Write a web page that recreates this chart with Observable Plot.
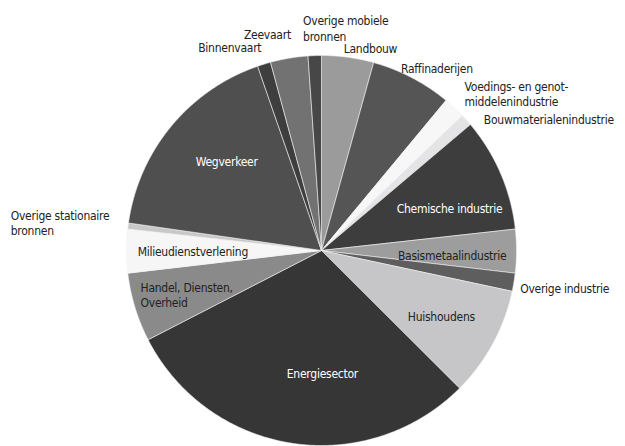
<!DOCTYPE html>
<html>
<head>
<meta charset="utf-8">
<script src="https://cdn.jsdelivr.net/npm/d3@7"></script>
<script src="https://cdn.jsdelivr.net/npm/@observablehq/plot@0.6"></script>
<style>
  html, body { margin: 0; padding: 0; background: #fff; }
  #chart svg { display: block; }
  #chart svg text { letter-spacing: -0.25px; }
</style>
</head>
<body>
<div id="chart"></div>
<script>
// Slices, clockwise from 12 o'clock (share of total, %)
const categories = [
  "Landbouw", "Raffinaderijen", "Voedings- en genotmiddelenindustrie",
  "Bouwmaterialenindustrie", "Chemische industrie", "Basismetaalindustrie",
  "Overige industrie", "Huishoudens", "Energiesector",
  "Handel, Diensten, Overheid", "Milieudienstverlening",
  "Overige stationaire bronnen", "Wegverkeer", "Binnenvaart", "Zeevaart",
  "Overige mobiele bronnen"
];
const values = [4.3, 6.7, 1.8, 1.0, 9.4, 3.6, 1.5, 9.1, 29.9, 5.7, 3.6, 0.5, 17.4, 1.1, 3.1, 1.1];
const labels = [
  "Landbouw", "Raffinaderijen", "Voedings- en genot-\nmiddelenindustrie",
  "Bouwmaterialenindustrie", "Chemische industrie", "Basismetaalindustrie",
  "Overige industrie", "Huishoudens", "Energiesector",
  "Handel, Diensten,\nOverheid", "Milieudienstverlening",
  "Overige stationaire\nbronnen", "Wegverkeer", "Binnenvaart", "Zeevaart",
  "Overige mobiele\nbronnen"
];

// Styling
const colors = ["#9b9b9b", "#555555", "#f7f7f7", "#e4e4e6", "#3d3d3d", "#9d9d9d",
  "#5e5e5e", "#c6c6c8", "#363636", "#8a8a8a", "#f6f6f6", "#c8c8c8",
  "#4f4f4f", "#3e3e3e", "#727272", "#474747"];
const textColors = ["#222", "#222", "#222", "#222", "#fff", "#222", "#222", "#222",
  "#fff", "#222", "#222", "#222", "#fff", "#222", "#222", "#222"];
// label placement: radius factor at slice mid-angle, pixel nudge, anchor
const labelLayout = [
  {r: 1.1, dx: 20, dy: 10, anchor: "middle"},
  {r: 1.1, dx: 16, dy: 8, anchor: "middle"},
  {r: 1.1, dx: -3, dy: 0, anchor: "start"},
  {r: 1.1, dx: 3, dy: 12, anchor: "start"},
  {r: 0.67, dx: 8, dy: 9, anchor: "middle"},
  {r: 0.67, dx: 0, dy: 4, anchor: "middle"},
  {r: 1.1, dx: -13, dy: 3, anchor: "start"},
  {r: 0.67, dx: 5, dy: 3, anchor: "middle"},
  {r: 0.67, dx: 21, dy: -7, anchor: "middle"},
  {r: 0.67, dx: -56, dy: 6, anchor: "start"},
  {r: 0.67, dx: 2, dy: 0, anchor: "middle"},
  {r: 1.1, dx: -98, dy: -1, anchor: "start"},
  {r: 0.67, dx: 6, dy: -6, anchor: "middle"},
  {r: 1.1, dx: 3, dy: 1, anchor: "end"},
  {r: 1.1, dx: 5, dy: -5, anchor: "end"},
  {r: 1.1, dx: -11, dy: -8, anchor: "start"}
];

const W = 625, H = 446, CX = 321, CY = 250, R = 195;

const arcs = d3.pie().sort(null).startAngle(0).endAngle(2 * Math.PI)(values);

// polygon outline per slice, in unit-circle coordinates
const slicePts = [];
arcs.forEach((a, i) => {
  const cat = categories[i];
  slicePts.push({cat, x: 0, y: 0});
  const n = Math.max(2, Math.ceil((a.endAngle - a.startAngle) / 0.005));
  for (let k = 0; k <= n; k++) {
    const t = a.startAngle + (a.endAngle - a.startAngle) * k / n;
    slicePts.push({cat, x: Math.sin(t), y: Math.cos(t)});
  }
  slicePts.push({cat, x: 0, y: 0});
});

const labelData = arcs.map((a, i) => {
  const m = (a.startAngle + a.endAngle) / 2;
  const L = labelLayout[i];
  return {
    text: labels[i], color: textColors[i],
    x: L.r * Math.sin(m), y: L.r * Math.cos(m),
    dx: L.dx, dy: L.dy, anchor: L.anchor
  };
});

const font = "'DejaVu Sans Condensed', 'Liberation Sans Narrow', 'Roboto', sans-serif";

const textMarks = ["start", "middle", "end"].flatMap(anchor =>
  labelData.filter(d => d.anchor === anchor).map(d =>
    Plot.text([d], {
      x: "x", y: "y", text: "text", fill: d.color,
      dx: d.dx, dy: d.dy, textAnchor: anchor,
      fontSize: 12, lineHeight: 1.3
    })
  )
);

const chart = Plot.plot({
  width: W, height: H,
  margin: 0,
  style: {fontFamily: font, background: "#fff"},
  x: {domain: [-CX / R, (W - CX) / R], axis: null},
  y: {domain: [(CY - H) / R, CY / R], axis: null},
  color: {domain: categories, range: colors},
  marks: [
    Plot.line(slicePts, {
      x: "x", y: "y", z: "cat", fill: "cat",
      stroke: "#f2f2f2", strokeWidth: 0.6, strokeLinejoin: "round", curve: "linear"
    }),
    ...textMarks
  ]
});
document.getElementById("chart").appendChild(chart);
</script>
</body>
</html>
